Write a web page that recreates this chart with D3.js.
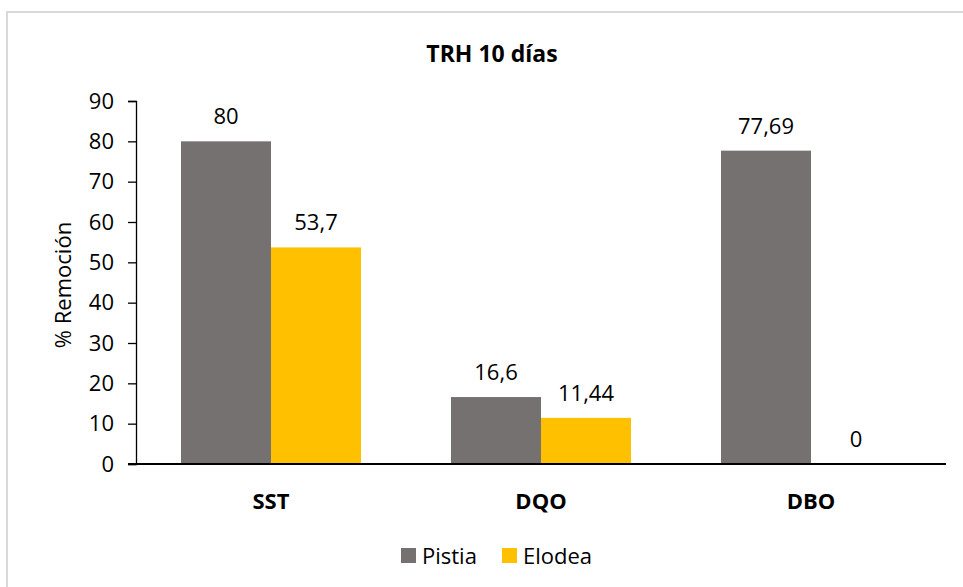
<!DOCTYPE html>
<html>
<head>
<meta charset="utf-8">
<script src="https://cdn.jsdelivr.net/npm/d3@7"></script>
<style>
  body { margin: 0; background: #fff; }
  svg text { font-family: "Open Sans", "Noto Sans", sans-serif; fill: #000; }
</style>
</head>
<body>
<div id="chart"></div>
<script>
// data
var categories = ["SST", "DQO", "DBO"];
var seriesNames = ["Pistia", "Elodea"];
var pistia = [80, 16.6, 77.69];
var elodea = [53.7, 11.44, 0];
var yTicks = [0, 10, 20, 30, 40, 50, 60, 70, 80, 90];

var colors = { Pistia: "#767171", Elodea: "#FFC000" };
var size = { w: 963, h: 587 };
var margin = { top: 101, right: 17, bottom: 123, left: 136 };

var svg = d3.select("#chart")
  .append("svg")
  .attr("width", size.w)
  .attr("height", size.h);

// chart frame (only top and left edges show in the crop)
svg.append("path")
  .attr("d", "M7," + size.h + " V12 H" + size.w)
  .attr("fill", "none")
  .attr("stroke", "#d9d9d9")
  .attr("stroke-width", 2);

var x = d3.scaleBand()
  .domain(categories)
  .range([margin.left, size.w - margin.right])
  .paddingInner(1 / 3)
  .paddingOuter(1 / 6);

var xSub = d3.scaleBand()
  .domain(seriesNames)
  .range([0, x.bandwidth()]);

var y = d3.scaleLinear()
  .domain([0, 90])
  .range([size.h - margin.bottom, margin.top]);

// title
svg.append("text")
  .attr("x", 492)
  .attr("y", 62)
  .attr("text-anchor", "middle")
  .style("font-weight", "bold")
  .style("font-size", "23px")
  .text("TRH 10 días");

// y axis
var yAxis = svg.append("g")
  .attr("transform", "translate(" + margin.left + ",0)")
  .call(d3.axisLeft(y).tickValues(yTicks).tickSize(8).tickPadding(14));
yAxis.select(".domain").attr("stroke", "#000").attr("stroke-width", 1.3);
yAxis.selectAll(".tick line").attr("stroke", "#000").attr("stroke-width", 1.3);
yAxis.selectAll(".tick text")
  .style("font-size", "22px")
  .attr("font-family", null);

// y label
svg.append("text")
  .attr("transform", "translate(71," + 285 + ") rotate(-90)")
  .attr("text-anchor", "middle")
  .style("font-size", "22px")
  .text("% Remoción");

// rows of bars
var rows = [];
categories.forEach(function (c, i) {
  rows.push({ cat: c, name: "Pistia", value: pistia[i] });
  rows.push({ cat: c, name: "Elodea", value: elodea[i] });
});

svg.selectAll("rect.bar")
  .data(rows)
  .enter().append("rect")
  .attr("class", "bar")
  .attr("x", function (d) { return x(d.cat) + xSub(d.name); })
  .attr("y", function (d) { return y(d.value); })
  .attr("width", xSub.bandwidth())
  .attr("height", function (d) { return y(0) - y(d.value); })
  .attr("fill", function (d) { return colors[d.name]; });

// value labels, comma as decimal separator
svg.selectAll("text.val")
  .data(rows)
  .enter().append("text")
  .attr("class", "val")
  .attr("x", function (d) { return x(d.cat) + xSub(d.name) + xSub.bandwidth() / 2; })
  .attr("y", function (d) { return y(d.value) - 17; })
  .attr("text-anchor", "middle")
  .style("font-size", "22px")
  .text(function (d) { return String(d.value).replace(".", ","); });

// x axis line
svg.append("line")
  .attr("x1", margin.left - 8)
  .attr("x2", size.w - margin.right)
  .attr("y1", y(0))
  .attr("y2", y(0))
  .attr("stroke", "#000")
  .attr("stroke-width", 2);

// category labels
svg.selectAll("text.cat")
  .data(categories)
  .enter().append("text")
  .attr("class", "cat")
  .attr("x", function (d) { return x(d) + x.bandwidth() / 2; })
  .attr("y", 509)
  .attr("text-anchor", "middle")
  .style("font-weight", "bold")
  .style("font-size", "22px")
  .text(function (d) { return d; });

// legend
var legendX = [401, 502];
var legend = svg.selectAll("g.legend")
  .data(seriesNames)
  .enter().append("g")
  .attr("class", "legend")
  .attr("transform", function (d, i) { return "translate(" + legendX[i] + ",548)"; });
legend.append("rect")
  .attr("width", 15)
  .attr("height", 15)
  .attr("fill", function (d) { return colors[d]; });
legend.append("text")
  .attr("x", 21)
  .attr("y", 16)
  .style("font-size", "22px")
  .text(function (d) { return d; });
</script>
</body>
</html>
